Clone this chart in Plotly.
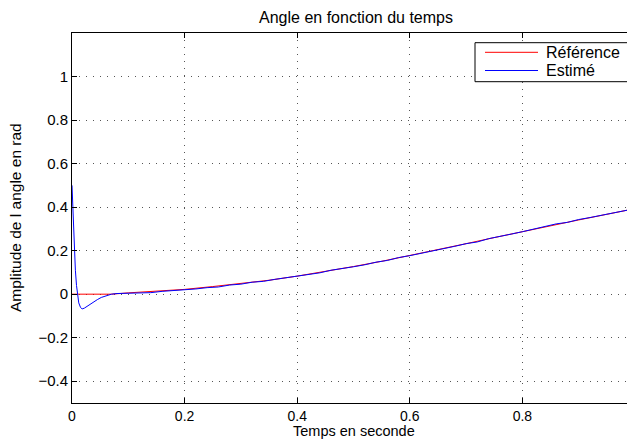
import plotly.graph_objects as go

# ---- data ----
t_ref = [0.0, 0.05, 0.07, 0.10, 0.15, 0.20, 0.25, 0.30, 0.35, 0.40, 0.45, 0.50,
         0.55, 0.60, 0.65, 0.70, 0.75, 0.80, 0.85, 0.90, 0.95, 1.00]
v_ref = [0.0, 0.0, 0.0, 0.006, 0.013, 0.022, 0.035, 0.048, 0.064, 0.083, 0.104, 0.127,
         0.151, 0.177, 0.204, 0.232, 0.260, 0.288, 0.315, 0.341, 0.367, 0.393]

t_est = [0.0, 0.002, 0.004, 0.006, 0.008, 0.010, 0.012, 0.015, 0.018, 0.022, 0.027,
         0.032, 0.038, 0.045, 0.052, 0.060, 0.070, 0.080,
         0.10, 0.12, 0.14, 0.16, 0.18, 0.20, 0.22, 0.24, 0.26, 0.28, 0.30, 0.32,
         0.34, 0.36, 0.38, 0.40, 0.42, 0.44, 0.46, 0.48, 0.50, 0.52, 0.54, 0.56,
         0.58, 0.60, 0.62, 0.64, 0.66, 0.68, 0.70, 0.72, 0.74, 0.76, 0.78, 0.80,
         0.82, 0.84, 0.86, 0.88, 0.90, 0.92, 0.94, 0.96, 0.98, 1.00]
v_est = [0.50, 0.36, 0.22, 0.11, 0.04, -0.01, -0.04, -0.060, -0.068, -0.064, -0.055,
         -0.046, -0.036, -0.025, -0.015, -0.007, 0.000, 0.003,
         0.004, 0.008, 0.007, 0.013, 0.016, 0.020, 0.024, 0.030, 0.033, 0.042, 0.046, 0.055,
         0.059, 0.068, 0.075, 0.082, 0.091, 0.098, 0.110, 0.117, 0.126, 0.135, 0.147, 0.155,
         0.168, 0.177, 0.187, 0.199, 0.209, 0.220, 0.232, 0.240, 0.255, 0.264, 0.276, 0.287,
         0.298, 0.309, 0.323, 0.330, 0.343, 0.352, 0.363, 0.371, 0.384, 0.393]

x_ticks = [0, 0.2, 0.4, 0.6, 0.8, 1.0]
y_ticks = [-0.4, -0.2, 0, 0.2, 0.4, 0.6, 0.8, 1.0]

series_names = ["Référence", "Estimé"]
series_colors = ["#ff0000", "#0000ff"]

FONT = "Liberation Sans, Arial, Helvetica, sans-serif"

# figure geometry (page has an 8px body margin)
W, H = 627, 431
L, R, T, B = 64, 0, 25, 36
PW, PH = W - L - R, H - T - B


def px(fx):
    return (fx - L) / PW


def py(fy):
    return (T + PH - fy) / PH


fig = go.Figure()
fig.add_trace(go.Scatter(x=t_ref, y=v_ref, mode="lines", name=series_names[0],
                         line=dict(color=series_colors[0], width=1)))
fig.add_trace(go.Scatter(x=t_est, y=v_est, mode="lines", name=series_names[1],
                         line=dict(color=series_colors[1], width=1)))

axis_common = dict(
    showline=True, linecolor="black", linewidth=1, mirror="ticks",
    ticks="inside", ticklen=5, tickcolor="black",
    showgrid=True, gridcolor="#555555", gridwidth=1, griddash="1px,6px",
    zeroline=False, automargin=False, ticklabeloverflow="allow",
)

# MATLAB-style legend box
shapes = [dict(type="rect", xref="paper", yref="paper",
               x0=px(467), x1=px(626), y0=py(73.7), y1=py(34.7),
               line=dict(color="black", width=1), fillcolor="white", layer="above")]
annotations = []
row_y = [44.3, 62.5]
for name, col, ry in zip(series_names, series_colors, row_y):
    shapes.append(dict(type="line", xref="paper", yref="paper",
                       x0=px(477), x1=px(530), y0=py(ry), y1=py(ry),
                       line=dict(color=col, width=1), layer="above"))
    annotations.append(dict(text=name, xref="paper", yref="paper",
                            x=px(536), y=py(ry), xanchor="left", yanchor="middle",
                            showarrow=False, font=dict(size=16, color="black")))

# axis titles
annotations.append(dict(text="Temps en seconde", xref="paper", yref="paper",
                        x=0.5, y=py(423), xanchor="center", yanchor="middle",
                        showarrow=False, font=dict(size=14.5, color="black")))
annotations.append(dict(text="Amplitude de l angle en rad", xref="paper", yref="paper",
                        x=px(7), y=0.5, xanchor="center", yanchor="middle",
                        textangle=-90, showarrow=False,
                        font=dict(size=15.5, color="black")))

fig.update_layout(
    width=W, height=H,
    margin=dict(l=L, r=R, t=T, b=B),
    paper_bgcolor="white", plot_bgcolor="white",
    font=dict(family=FONT, size=15, color="black"),
    title=dict(text="Angle en fonction du temps", xref="container", yref="container",
               x=348 / W, xanchor="center", y=1 - 9.5 / H, yanchor="middle",
               font=dict(size=16, color="black")),
    xaxis=dict(range=[0, 1], tickvals=x_ticks,
               tickfont=dict(size=14, color="black", family=FONT), **axis_common),
    yaxis=dict(range=[-0.5, 1.2], tickvals=y_ticks,
               tickfont=dict(size=15, color="black", family=FONT), **axis_common),
    shapes=shapes,
    annotations=annotations,
    showlegend=False,
)

fig.write_html("out.html")
